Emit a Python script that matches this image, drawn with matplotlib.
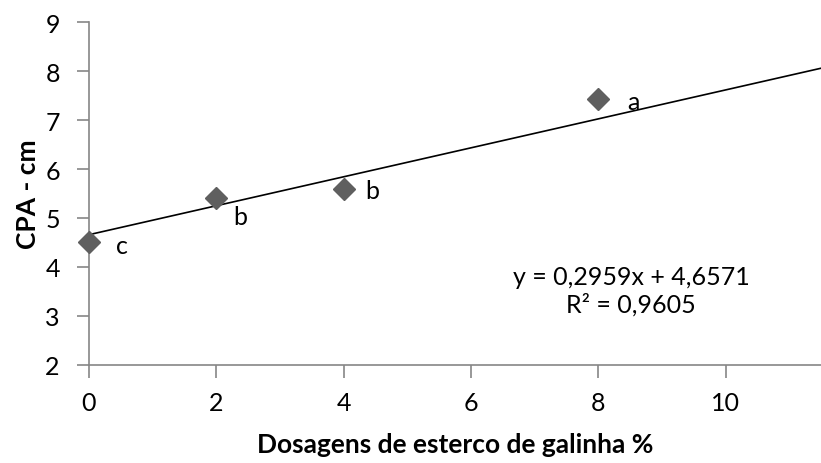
import numpy as np
import matplotlib.pyplot as plt

plt.rcParams['font.family'] = ['Lato', 'DejaVu Sans']

dose = [0, 2, 4, 8]
cpa = [4.50, 5.41, 5.60, 7.43]
letters = ['c', 'b', 'b', 'a']
slope = 0.2959
intercept = 4.6571
eq_text = 'y = 0,2959x + 4,6571\nR² = 0,9605'

fig = plt.figure(figsize=(8.21, 4.64), dpi=100)
ax = fig.add_axes([0.1084, 0.2119, 0.8916, 0.738])

xt = np.array([0, 11.5])
ax.plot(xt, slope * xt + intercept, color='black', lw=1.2, zorder=2)
ax.plot(dose, cpa, 'D', color='#5f5f5f', markersize=11.5, zorder=3, clip_on=False)

# letras de significancia
offs = [(0.52, -0.07), (0.38, -0.38), (0.45, -0.03), (0.55, -0.05)]
for x, y, t, (dx, dy) in zip(dose, cpa, letters, offs):
    ax.text(x + dx, y + dy, t, fontsize=18, ha='center', va='center')

ax.text(8.52, 3.52, eq_text, fontsize=18, ha='center', va='center', linespacing=1.2)

ax.set_xlim(0, 11.5)
ax.set_ylim(2, 9)
ax.set_xticks([0, 2, 4, 6, 8, 10])
ax.set_yticks(range(2, 10))
for s in ['top', 'right']:
    ax.spines[s].set_visible(False)
for s in ['left', 'bottom']:
    ax.spines[s].set_color('#868686')
    ax.spines[s].set_linewidth(1.2)
ax.tick_params(colors='#868686', length=9, width=1.2, labelcolor='black', labelsize=18)
ax.tick_params(axis='x', pad=10)
ax.tick_params(axis='y', pad=12)

ax.set_xlabel('Dosagens de esterco de galinha %', fontsize=19, fontweight='bold', labelpad=13)
ax.set_ylabel('CPA - cm', fontsize=19, fontweight='bold', labelpad=4)

fig.savefig('out.png', dpi=100)
